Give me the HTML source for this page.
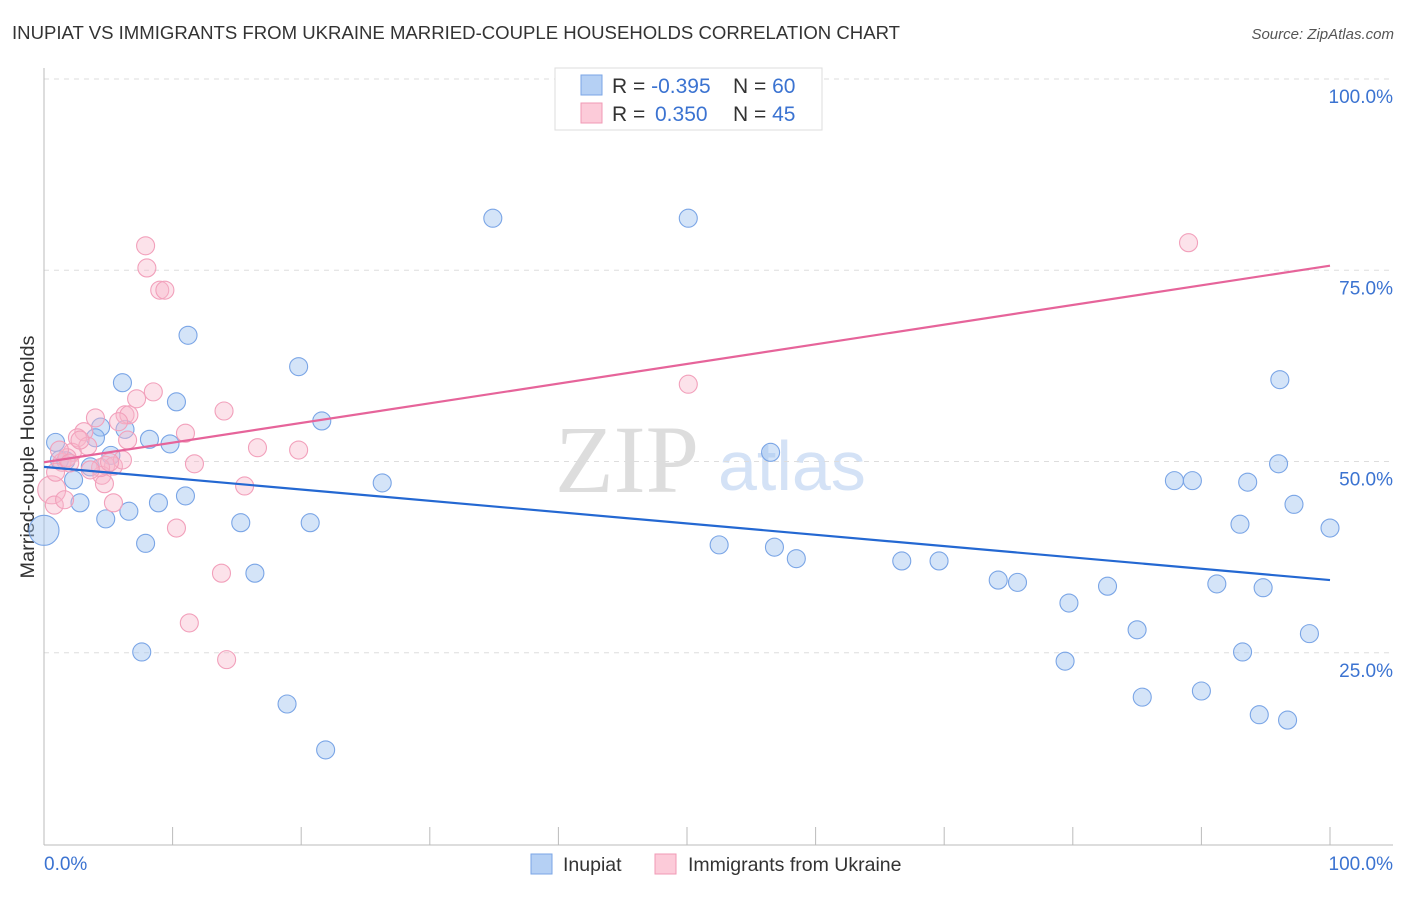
<!DOCTYPE html>
<html><head><meta charset="utf-8"><style>
body{margin:0;background:#fff;font-family:"Liberation Sans",sans-serif;}
</style></head><body>
<svg width="1406" height="892" xmlns="http://www.w3.org/2000/svg" id="chart">
<text x="12" y="39" font-size="18" fill="#333" textLength="888" lengthAdjust="spacingAndGlyphs">INUPIAT VS IMMIGRANTS FROM UKRAINE MARRIED-COUPLE HOUSEHOLDS CORRELATION CHART</text>
<text x="1394" y="39" font-size="15" fill="#555" font-style="italic" text-anchor="end">Source: ZipAtlas.com</text>
<text transform="translate(34,457) rotate(-90)" font-size="19.5" fill="#333" text-anchor="middle" textLength="243" lengthAdjust="spacingAndGlyphs">Married-couple Households</text>
<text x="555" y="492" font-size="96" fill="#ddd" font-family="Liberation Serif,serif">ZIP</text>
<text x="718" y="490" font-size="70" fill="#d4e2f6">atlas</text>
<g id="grid"></g><g id="axes"></g><g id="pts"></g><g id="trend"></g>
<g>
<rect x="555" y="68" width="267" height="62" fill="#fff" stroke="#ddd"/>
<rect x="581" y="75" width="21" height="20" fill="#b5d0f4" stroke="#7aa5e6"/>
<rect x="581" y="103" width="21" height="20" fill="#fccbd9" stroke="#f09ab5"/>
<text x="612" y="93" font-size="21" fill="#333">R = <tspan fill="#3b73d1">-0.395</tspan><tspan x="733">N = </tspan><tspan fill="#3b73d1">60</tspan></text>
<text x="612" y="121" font-size="21" fill="#333">R = <tspan x="655" fill="#3b73d1">0.350</tspan><tspan x="733">N = </tspan><tspan fill="#3b73d1">45</tspan></text>
</g>
<g>
<rect x="531" y="854" width="21" height="20" fill="#b5d0f4" stroke="#7aa5e6"/>
<text x="563" y="871" font-size="19.5" fill="#333">Inupiat</text>
<rect x="655" y="854" width="21" height="20" fill="#fccbd9" stroke="#f09ab5"/>
<text x="688" y="871" font-size="19.5" fill="#333">Immigrants from Ukraine</text>
</g>
</svg>
<script>
const blueX=[0.9,4.4,4.0,6.1,6.3,8.2,10.3,11.2,9.8,2.3,2.8,4.8,5.2,6.6,7.9,8.9,11.0,7.6,15.3,16.4,18.9,19.8,20.7,21.6,21.9,26.3,34.9,50.1,52.5,56.5,56.8,58.5,66.7,69.6,74.2,75.7,79.7,82.7,85.0,79.4,85.4,87.9,89.3,90.0,91.2,93.0,93.2,93.6,94.5,96.0,96.1,96.7,97.2,98.4,100,94.8,0,1.7,3.6,1.2];
const blueY=[52.5,54.5,53.1,60.3,54.2,52.9,57.8,66.5,52.3,47.6,44.6,42.5,50.8,43.5,39.3,44.6,45.5,25.1,42.0,35.4,18.3,62.4,42.0,55.3,12.3,47.2,81.8,81.8,39.1,51.2,38.8,37.3,37.0,37.0,34.5,34.2,31.5,33.7,28.0,23.9,19.2,47.5,47.5,20.0,34.0,41.8,25.1,47.3,16.9,49.7,60.7,16.2,44.4,27.5,41.3,33.5,41.0,50.1,49.3,50.2];
const pinkX=[7.9,8.0,9.0,9.4,4.0,3.1,2.6,3.4,2.2,1.4,1.8,4.8,5.4,4.5,4.7,6.3,6.6,5.8,7.2,8.5,11.0,11.7,6.5,5.4,14.0,15.6,16.6,19.8,10.3,13.8,11.3,14.2,50.1,89.0,0.6,0.8,1.2,2.0,4.4,6.1,2.8,3.6,5.1,0.9,1.6];
const pinkY=[78.2,75.3,72.4,72.4,55.7,53.9,53.1,52.0,51.2,49.9,50.5,49.5,49.4,48.2,47.1,56.1,56.1,55.2,58.2,59.1,53.7,49.7,52.8,44.6,56.6,46.8,51.8,51.5,41.3,35.4,28.9,24.1,60.1,78.6,46.3,44.3,51.5,49.8,49.2,50.2,52.8,48.9,49.9,48.6,45.0];
const blueTrend=[49.3,34.5];
const pinkTrend=[49.9,75.6];
const yTicks=[25,50,75,100];
const yTickLabels=["25.0%","50.0%","75.0%","100.0%"];
const xTicks=[0,10,20,30,40,50,60,70,80,90,100];

const NS="http://www.w3.org/2000/svg";
const sx=v=>44+v*12.86, sy=v=>844-v*7.65;
function mk(tag,attrs,parent){const e=document.createElementNS(NS,tag);for(const k in attrs)e.setAttribute(k,attrs[k]);document.getElementById(parent).appendChild(e);return e;}
yTicks.forEach((t,i)=>{
  const l=mk('line',{x1:44,x2:1393,y1:sy(t),y2:sy(t),stroke:'#ddd','stroke-dasharray':'5,5'},'grid');
  
  
  const tx=mk('text',{x:1393,y:sy(t)+24,'font-size':19,fill:'#3b73d1','text-anchor':'end'},'grid');
  tx.textContent=yTickLabels[i];
  
  
});
const ax=mk('line',{x1:44,x2:44,y1:68,y2:845,stroke:'#bbb'},'axes');


const bx=mk('line',{x1:44,x2:1393,y1:845,y2:845,stroke:'#bbb'},'axes');


xTicks.forEach(t=>{
  const l=mk('line',{x1:sx(t),x2:sx(t),y1:827,y2:845,stroke:'#bbb'},'axes');
  
  
});
const x0=mk('text',{x:44,y:870,'font-size':19,fill:'#3b73d1'},'axes');x0.textContent='0.0%';


const x1=mk('text',{x:1393,y:870,'font-size':19,fill:'#3b73d1','text-anchor':'end'},'axes');x1.textContent='100.0%';


blueX.forEach((v,i)=>{
  const c=mk('circle',{cx:sx(v),cy:sy(blueY[i]),r:(v===0?15:9),fill:'rgba(160,196,240,0.45)',stroke:'#7aa5e6','stroke-width':1.1},'pts');
  
  
});
pinkX.forEach((v,i)=>{
  const c=mk('circle',{cx:sx(v),cy:sy(pinkY[i]),r:(i===34?14:9),fill:'rgba(248,182,202,0.4)',stroke:'#f2a0bb','stroke-width':1.1},'pts');
  
  
});
const bt=mk('line',{x1:sx(0),y1:sy(blueTrend[0]),x2:sx(100),y2:sy(blueTrend[1]),stroke:'#2468d2','stroke-width':2.2},'trend');


const pt=mk('line',{x1:sx(0),y1:sy(pinkTrend[0]),x2:sx(100),y2:sy(pinkTrend[1]),stroke:'#e6649a','stroke-width':2.2},'trend');


</script>
</body></html>
